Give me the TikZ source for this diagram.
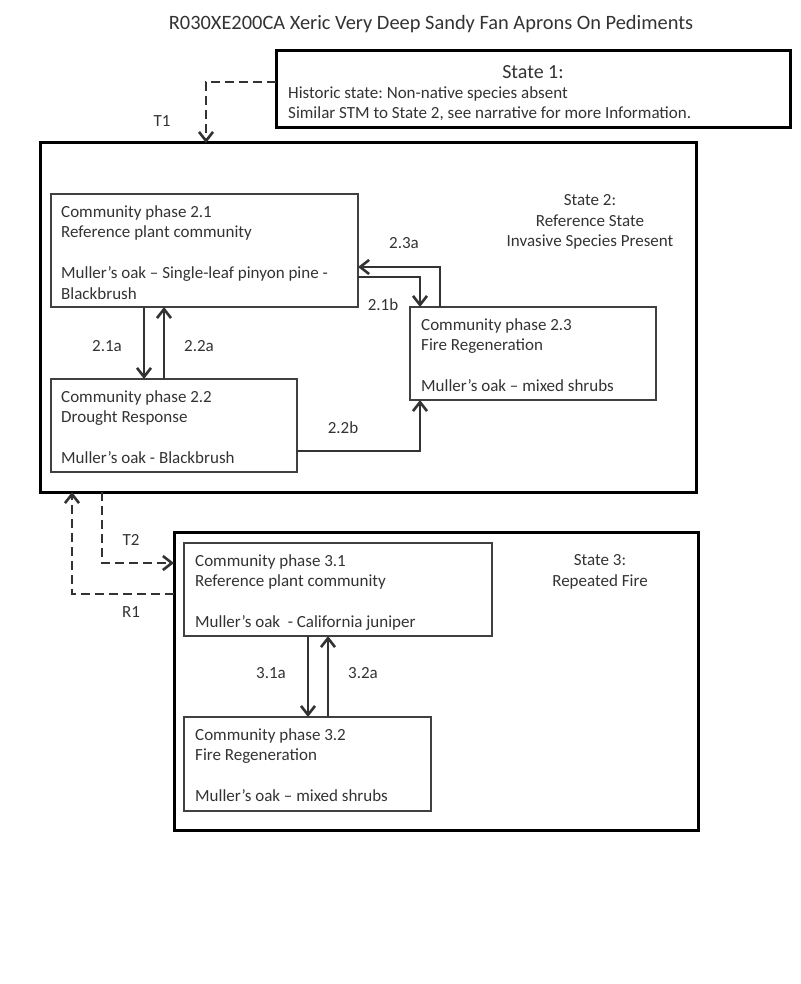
\documentclass[tikz,border=0pt]{standalone}
\usepackage{fontspec}
\setmainfont{Carlito}
\usetikzlibrary{arrows.meta,calc}
\frenchspacing
\begin{document}
\begin{tikzpicture}[x=1pt,y=-1pt,
  statebox/.style={draw=black, line width=3pt, inner sep=0pt, outer sep=0pt, anchor=north west},
  phasebox/.style={draw=black!75, line width=1.3pt, inner sep=0pt, outer sep=0pt, anchor=north west},
  txt/.style={text=black!80, font=\fontsize{17}{20.5}\selectfont, inner sep=0pt, align=left, anchor=north west},
  lbl/.style={text=black!80, font=\fontsize{17}{20.5}\selectfont, inner sep=0pt},
  conn/.style={draw=black!80, line width=1.4pt, -{Straight Barb[length=9pt,width=14pt,line width=2.6pt]}},
  dconn/.style={conn, dash pattern=on 9pt off 5pt}
]
\useasboundingbox (0,0) rectangle (800,984);

% title
\node[lbl, font=\fontsize{20.4}{24}\selectfont] (title) at (431,24) {R030XE200CA Xeric Very Deep Sandy Fan Aprons On Pediments};

% state boxes
\node[statebox, minimum width=514pt, minimum height=77pt] (S1) at (276,51) {};
\node[statebox, minimum width=656pt, minimum height=349pt] (S2) at (40,143) {};
\node[statebox, minimum width=524pt, minimum height=298pt] (S3) at (174,532) {};

% phase boxes
\node[phasebox, minimum width=307pt, minimum height=113pt] (P21) at (51,194) {};
\node[phasebox, minimum width=246pt, minimum height=93pt] (P22) at (51,379) {};
\node[phasebox, minimum width=246pt, minimum height=93pt] (P23) at (410,307) {};
\node[phasebox, minimum width=308pt, minimum height=93pt] (P31) at (184,543) {};
\node[phasebox, minimum width=247pt, minimum height=94pt] (P32) at (184,717) {};

% state texts
\node[lbl, font=\fontsize{20}{24}\selectfont] (s1t) at (533,72) {State 1:};
\node[txt, anchor=west] (s1d) at (288,103.5) {Historic state: Non-native species absent\\Similar STM to State 2, see narrative for more Information.};
\node[lbl, align=center] (s2t) at (590,222) {State 2:\\Reference State\\Invasive Species Present};
\node[lbl, align=center] (s3t) at (600,572) {State 3:\\Repeated Fire};

% phase texts
\node[txt] (p21t) at ($(P21.north west)+(10,11)$) {Community phase 2.1\\Reference plant community\\[20.5pt]Muller’s oak – Single-leaf pinyon pine -\\Blackbrush};
\node[txt] (p22t) at ($(P22.north west)+(10,11)$) {Community phase 2.2\\Drought Response\\[20.5pt]Muller’s oak - Blackbrush};
\node[txt] (p23t) at ($(P23.north west)+(11,11)$) {Community phase 2.3\\Fire Regeneration\\[20.5pt]Muller’s oak – mixed shrubs};
\node[txt] (p31t) at ($(P31.north west)+(11,11)$) {Community phase 3.1\\Reference plant community\\[20.5pt]Muller’s oak\ \ - California juniper};
\node[txt] (p32t) at ($(P32.north west)+(11,11)$) {Community phase 3.2\\Fire Regeneration\\[20.5pt]Muller’s oak – mixed shrubs};

% connectors
\draw[dconn] ($(S1.north west)+(0,31)$) -| ($(S2.north west)+(166,0)$);
\draw[conn] ($(P21.south west)+(93,0)$) -- ($(P22.north west)+(93,0)$);
\draw[conn] ($(P22.north west)+(113,0)$) -- ($(P21.south west)+(113,0)$);
\draw[conn] ($(P23.north west)+(30,0)$) |- ($(P21.north east)+(0,73)$);
\draw[conn] ($(P21.north east)+(0,83)$) -| ($(P23.north west)+(10,0)$);
\draw[conn] ($(P22.north east)+(0,72)$) -| ($(P23.south west)+(10,0)$);
\draw[conn] ($(P31.south west)+(124,0)$) -- ($(P32.north west)+(124,0)$);
\draw[conn] ($(P32.north west)+(144,0)$) -- ($(P31.south west)+(144,0)$);
\draw[dconn] ($(S2.south west)+(62,0)$) |- ($(S3.north west)+(0,31)$);
\draw[dconn] ($(S3.north west)+(0,62)$) -| ($(S2.south west)+(32,0)$);

% connector labels
\node[lbl] (lT1) at (162,121) {T1};
\node[lbl] (l23a) at (404,243) {2.3a};
\node[lbl] (l21b) at (383,305) {2.1b};
\node[lbl] (l21a) at (107,346) {2.1a};
\node[lbl] (l22a) at (199,346) {2.2a};
\node[lbl] (l22b) at (343,428) {2.2b};
\node[lbl] (lT2) at (131,540) {T2};
\node[lbl] (lR1) at (131,612) {R1};
\node[lbl] (l31a) at (271,673) {3.1a};
\node[lbl] (l32a) at (363,673) {3.2a};
\end{tikzpicture}
\end{document}
